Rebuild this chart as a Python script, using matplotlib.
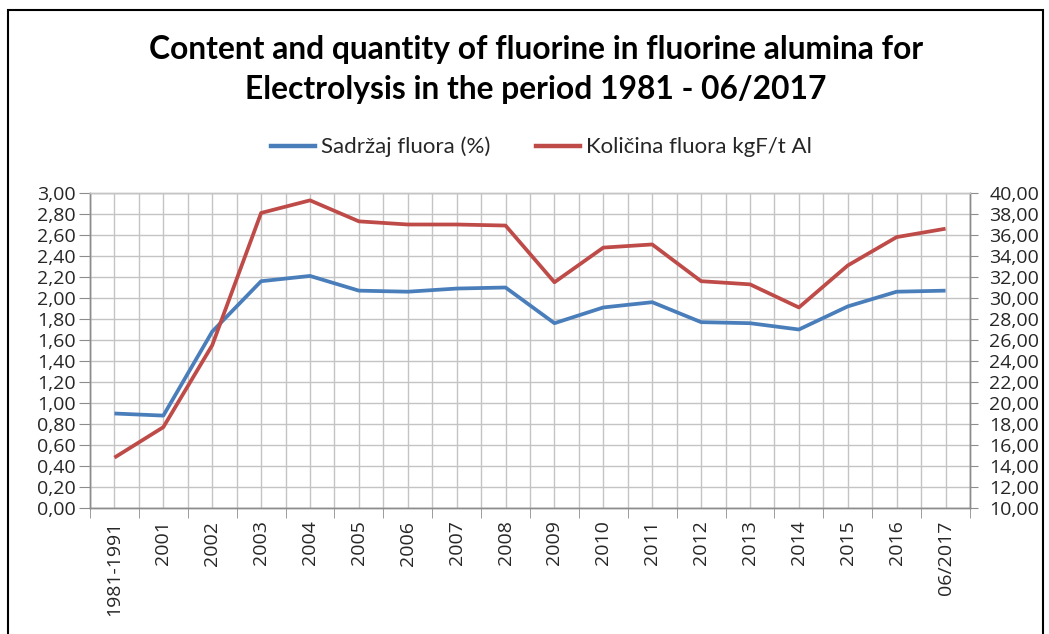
import matplotlib
matplotlib.use("Agg")
import matplotlib.pyplot as plt
from matplotlib.ticker import FixedLocator, FuncFormatter
from matplotlib.lines import Line2D
import matplotlib.patches as patches

categories = ["1981-1991", "2001", "2002", "2003", "2004", "2005", "2006", "2007",
              "2008", "2009", "2010", "2011", "2012", "2013", "2014", "2015", "2016", "06/2017"]
sadrzaj = [0.90, 0.88, 1.68, 2.16, 2.21, 2.07, 2.06, 2.09, 2.10,
           1.76, 1.91, 1.96, 1.77, 1.76, 1.70, 1.92, 2.06, 2.07]
kolicina = [14.8, 17.7, 25.5, 38.1, 39.3, 37.3, 37.0, 37.0, 36.9,
            31.5, 34.8, 35.1, 31.6, 31.3, 29.1, 33.1, 35.8, 36.6]
left_ticks = [i * 0.2 for i in range(16)]
right_ticks = [10 + 2 * i for i in range(16)]

W, H = 1049, 634
fig = plt.figure(figsize=(W / 100, H / 100), dpi=100)
font = "Open Sans"
txt_color = "#262626"
grid_color = "#c4c4c4"
axis_color = "#8c8c8c"

# outer chart border
fig.patches.append(patches.Rectangle((8 / W, -0.01), (1043 - 8) / W, 1.01 - 10 / H,
                                     transform=fig.transFigure, fill=False,
                                     edgecolor="black", linewidth=1.5))

ax = fig.add_axes([90 / W, (H - 508) / H, 880 / W, 315 / H])
x = list(range(len(categories)))
l1, = ax.plot(x, sadrzaj, color="#4A7EBB", linewidth=2.7, solid_capstyle="butt")
ax.set_xlim(-0.5, len(categories) - 0.5)
ax.set_ylim(0, 3.0)

ax2 = ax.twinx()
l2, = ax2.plot(x, kolicina, color="#BE4B48", linewidth=2.7, solid_capstyle="butt")
ax2.set_ylim(10, 40)

ax.xaxis.set_major_locator(FixedLocator(x))
ax.xaxis.set_minor_locator(FixedLocator([i - 0.5 for i in range(len(categories) + 1)]))
ax.set_xticklabels(categories, rotation=90, fontsize=14, color=txt_color, family=font)
ax.tick_params(axis="x", which="major", length=0, pad=9)
ax.tick_params(axis="x", which="minor", length=7, color=axis_color, direction="out")
ax.grid(True, which="both", axis="x", color=grid_color, linewidth=1)
ax.yaxis.set_major_locator(FixedLocator(left_ticks))
ax.yaxis.set_major_formatter(FuncFormatter(lambda v, p: f"{v:.2f}".replace(".", ",")))
ax.tick_params(axis="y", length=8, color=axis_color, labelsize=14, labelcolor=txt_color, pad=2)
for t in ax.get_yticklabels():
    t.set_family(font)
ax.grid(True, which="major", axis="y", color=grid_color, linewidth=1)
ax.set_axisbelow(True)

ax2.yaxis.set_major_locator(FixedLocator(right_ticks))
ax2.yaxis.set_major_formatter(FuncFormatter(lambda v, p: f"{v:.2f}".replace(".", ",")))
ax2.tick_params(axis="y", length=6, color=axis_color, labelsize=14, labelcolor=txt_color, pad=8)
for t in ax2.get_yticklabels():
    t.set_family(font)

for a in (ax, ax2):
    for s in a.spines.values():
        s.set_color(axis_color)
        s.set_linewidth(1)
    a.spines["top"].set_color(grid_color)

fig.text(536 / W, 1 - 50 / H, "Content and quantity of fluorine in fluorine alumina for",
         ha="center", va="center", fontsize=22.9, fontweight="bold", family="Lato", color="black")
fig.text(536 / W, 1 - 89 / H, "Electrolysis in the period 1981 - 06/2017",
         ha="center", va="center", fontsize=22.9, fontweight="bold", family="Lato", color="black")

h1 = Line2D([], [], color="#4A7EBB", linewidth=3.2)
h2 = Line2D([], [], color="#BE4B48", linewidth=3.2)
fig.legend([h1, h2], ["Sadržaj fluora (%)", "Količina fluora kgF/t Al"],
           loc="center", bbox_to_anchor=(541 / W, 1 - 147 / H), ncol=2, frameon=False,
           prop={"family": "Lato", "size": 16}, handlelength=2.0, handletextpad=0.25,
           columnspacing=2.05, labelcolor=txt_color)

fig.savefig("out.png", dpi=100)
